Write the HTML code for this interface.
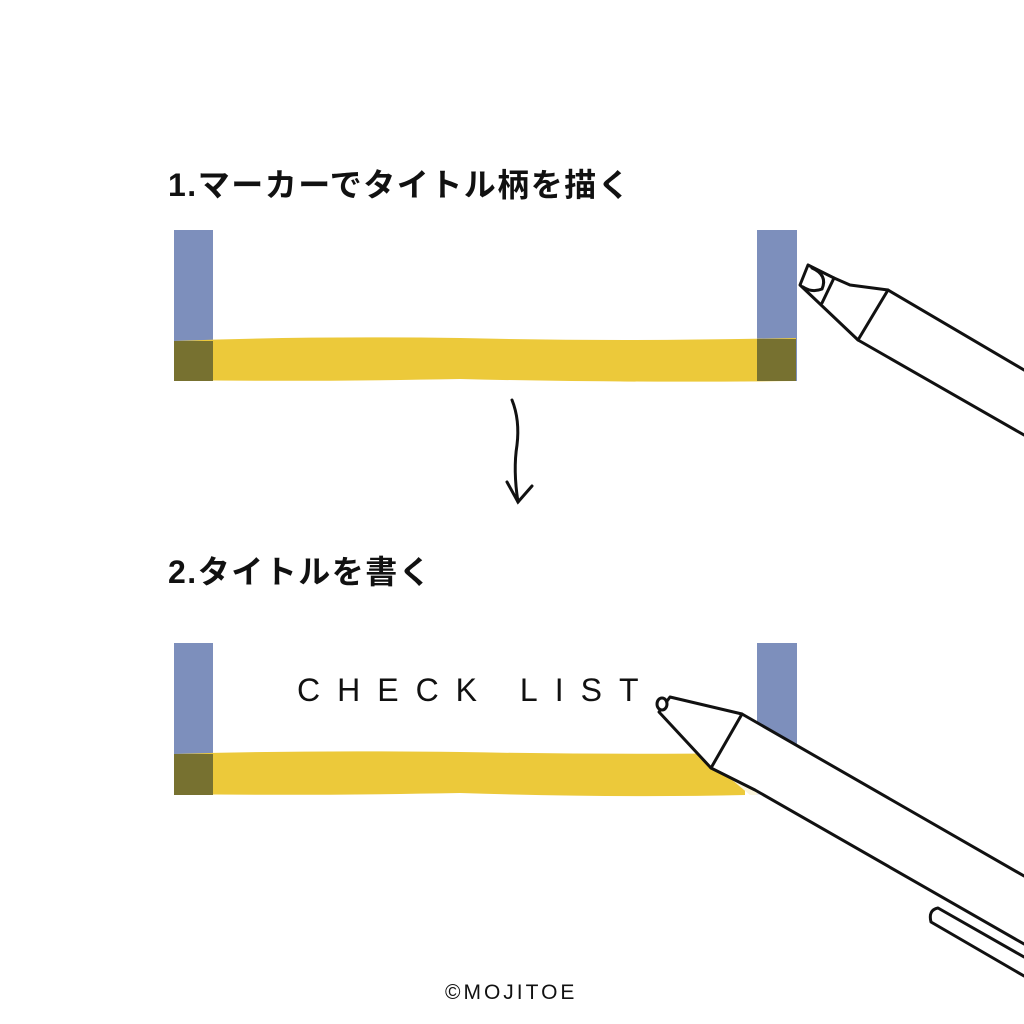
<!DOCTYPE html>
<html><head><meta charset="utf-8"><style>
html,body{margin:0;padding:0;background:#fff;}
body{width:1024px;height:1024px;position:relative;overflow:hidden;}
.t{position:absolute;font-family:"Liberation Sans","Noto Sans CJK JP",sans-serif;color:#111;white-space:nowrap;}
svg{position:absolute;left:0;top:0;}
</style></head><body>
<svg width="1024" height="1024" viewBox="0 0 1024 1024">
<rect x="174" y="230" width="39" height="151" fill="#7d8fbc"/>
<rect x="757" y="230" width="40" height="151" fill="#7d8fbc"/>
<path d="M174 341 Q300 336 460 338 Q620 342 796 338 L796 381 Q620 383 460 379 Q300 382 174 380 Z" fill="#ecc93a"/>
<rect x="174" y="341" width="39" height="40" fill="#777130"/>
<rect x="757" y="339" width="39" height="42" fill="#777130"/>
<g fill="none" stroke="#111" stroke-width="3" stroke-linejoin="round" stroke-linecap="round">
<path d="M1024 370 L888 290 L850 285 L834 278 L808 265 L800 285 L819 303 L858 340 L1024 435" fill="#fff"/>
<path d="M834 278 L822 303"/>
<path d="M888 290 L858 340"/>
<path d="M812 268 Q828 275 822 289 Q812 293 803 287"/>
</g>
<g fill="none" stroke="#111" stroke-width="3" stroke-linecap="round">
<path d="M512 400 Q520 420 517 445 Q513 470 518 502"/>
<path d="M507 482 L518 502 L532 486"/>
</g>
<rect x="174" y="643" width="39" height="152" fill="#7d8fbc"/>
<path d="M757 643 L797 643 L797 752 L757 730 Z" fill="#7d8fbc"/>
<path d="M757 730 L797 752 L797 795 L757 795 Z" fill="#e8ebf4"/>
<path d="M174 754 Q300 750 460 752 Q620 755 745 753 L745 795 Q620 798 460 793 Q300 796 174 794 Z" fill="#ecc93a"/>
<path d="M700 753 L757 752 L757 795 L750 795 Z" fill="#fbf5dc"/>
<rect x="174" y="754" width="39" height="41" fill="#777130"/>
<g fill="none" stroke="#111" stroke-width="3" stroke-linejoin="round" stroke-linecap="round">
<path d="M1024 876 L742 714 L670 697 L659 712 L711 768 L755 790 L1024 944" fill="#fff"/>
<path d="M742 714 L711 768"/>
<ellipse cx="662" cy="704" rx="5" ry="6" fill="#fff"/>
<path d="M1024 957 L938 908 Q928 910 931 922 L1024 976"/>
</g>
</svg>
<div class="t" style="left:168px;top:160px;font-size:32px;letter-spacing:1.5px;font-weight:bold;">1.マーカーでタイトル柄を描く</div>
<div class="t" style="left:168px;top:547px;font-size:32px;letter-spacing:1.5px;font-weight:bold;">2.タイトルを書く</div>
<div class="t" style="left:297px;top:672px;font-size:32px;letter-spacing:17px;">CHECK LIST</div>
<div class="t" style="left:445px;top:981px;font-size:21px;letter-spacing:3px;">©MOJITOE</div>
</body></html>
